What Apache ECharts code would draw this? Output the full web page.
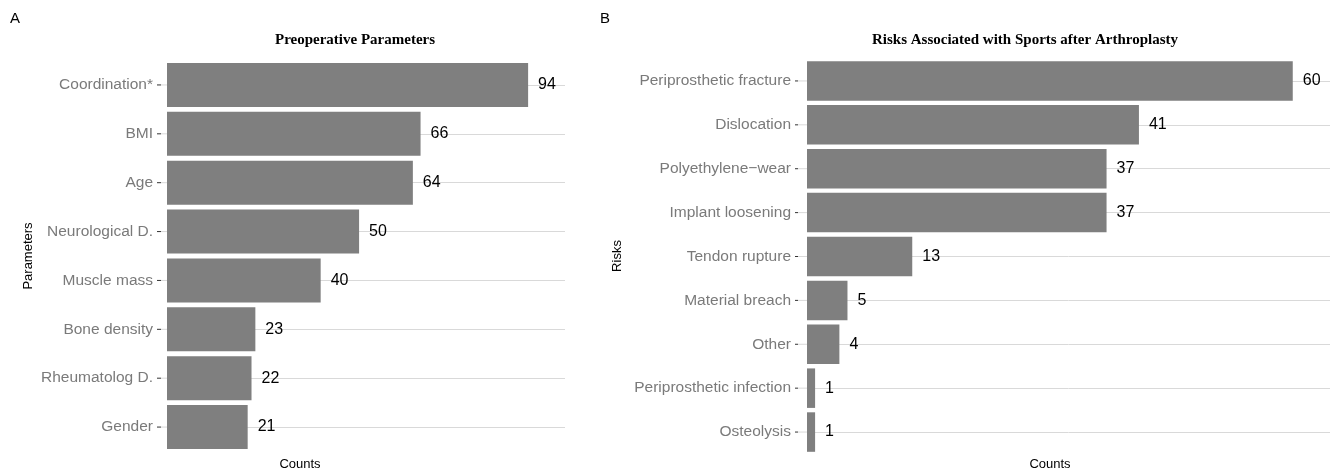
<!DOCTYPE html>
<html>
<head>
<meta charset="utf-8">
<script src="https://cdn.jsdelivr.net/npm/echarts@6/dist/echarts.min.js"></script>
<style>html,body{margin:0;padding:0;background:#fff}#c{width:1332px;height:470px}</style>
</head>
<body>
<div id="c"></div>
<script>
const paramCategories = ['Coordination*', 'BMI', 'Age', 'Neurological D.', 'Muscle mass', 'Bone density', 'Rheumatolog D.', 'Gender'];
const paramCounts = [94, 66, 64, 50, 40, 23, 22, 21];
const riskCategories = ['Periprosthetic fracture', 'Dislocation', 'Polyethylene\u2212wear', 'Implant loosening', 'Tendon rupture', 'Material breach', 'Other', 'Periprosthetic infection', 'Osteolysis'];
const riskCounts = [60, 41, 37, 37, 13, 5, 4, 1, 1];
const titleLeft = 'Preoperative Parameters';
const titleRight = 'Risks Associated with Sports after Arthroplasty';

const chart = echarts.init(document.getElementById('c'), null, {renderer: 'canvas'});
const sans = 'Liberation Sans, Arial, sans-serif';
function yAx(idx, cats, margin) {
  return {
    type: 'category', gridIndex: idx, data: cats, inverse: true,
    axisLine: {show: false},
    axisTick: {show: false},
    axisLabel: {color: '#7a7a7a', fontSize: 15.5, fontFamily: sans, margin: margin},
    splitLine: {show: true, alignWithLabel: true, lineStyle: {color: '#d9d9d9', width: 1}}
  };
}
function xAx(idx, max) {
  return {
    type: 'value', gridIndex: idx, min: 0, max: max,
    axisLine: {show: false}, axisTick: {show: false}, axisLabel: {show: false},
    splitLine: {show: false}
  };
}
function barSeries(idx, data) {
  return {
    type: 'bar', xAxisIndex: idx, yAxisIndex: idx, data: data,
    barCategoryGap: '10%', itemStyle: {color: '#7f7f7f'}, z: 3,
    label: {show: true, position: 'right', distance: 10, color: '#000', fontSize: 16, fontFamily: sans}
  };
}
function tickSeries(idx, cats, tickStart, tickEnd) {
  return {
    type: 'custom', xAxisIndex: idx, yAxisIndex: idx, clip: false, silent: true, z: 1,
    data: cats.map((c, i) => [0, i]),
    renderItem: function (params, api) {
      const p = api.coord([0, api.value(1)]);
      return {
        type: 'group',
        children: [
          {type: 'line', shape: {x1: p[0] - tickEnd, y1: p[1], x2: p[0], y2: p[1]}, style: {stroke: '#d9d9d9', lineWidth: 1}},
          {type: 'line', shape: {x1: p[0] - tickStart, y1: p[1], x2: p[0] - tickEnd, y2: p[1]}, style: {stroke: '#333', lineWidth: 1}}
        ]
      };
    }
  };
}
chart.setOption({
  animation: false,
  grid: [
    {left: 167, width: 398, top: 60.5, height: 391},
    {left: 807, width: 523, top: 59, height: 395}
  ],
  xAxis: [xAx(0, 103.6), xAx(1, 64.6)],
  yAxis: [yAx(0, paramCategories, 14), yAx(1, riskCategories, 16)],
  series: [
    tickSeries(0, paramCategories, 10, 6),
    tickSeries(1, riskCategories, 12, 9),
    barSeries(0, paramCounts), barSeries(1, riskCounts)
  ],
  graphic: [
    {type: 'text', left: 10, top: 11, style: {text: 'A', fontSize: 15, fontFamily: sans, fill: '#000'}},
    {type: 'text', left: 600, top: 11, style: {text: 'B', fontSize: 15, fontFamily: sans, fill: '#000'}},
    {type: 'text', x: 355, y: 40, style: {text: titleLeft, fontSize: 15, fontWeight: 'bold', fontFamily: 'Liberation Serif, Times New Roman, serif', fill: '#000', align: 'center', verticalAlign: 'middle'}},
    {type: 'text', x: 1025, y: 40, style: {text: titleRight, fontSize: 15, fontWeight: 'bold', fontFamily: 'Liberation Serif, Times New Roman, serif', fill: '#000', align: 'center', verticalAlign: 'middle'}},
    {type: 'text', x: 28, y: 256, rotation: Math.PI / 2, style: {text: 'Parameters', fontSize: 13, fontFamily: sans, fill: '#000', align: 'center', verticalAlign: 'middle'}},
    {type: 'text', x: 617, y: 256, rotation: Math.PI / 2, style: {text: 'Risks', fontSize: 13, fontFamily: sans, fill: '#000', align: 'center', verticalAlign: 'middle'}},
    {type: 'text', x: 300, y: 464, style: {text: 'Counts', fontSize: 13, fontFamily: sans, fill: '#000', align: 'center', verticalAlign: 'middle'}},
    {type: 'text', x: 1050, y: 464, style: {text: 'Counts', fontSize: 13, fontFamily: sans, fill: '#000', align: 'center', verticalAlign: 'middle'}}
  ]
});
</script>
</body>
</html>
